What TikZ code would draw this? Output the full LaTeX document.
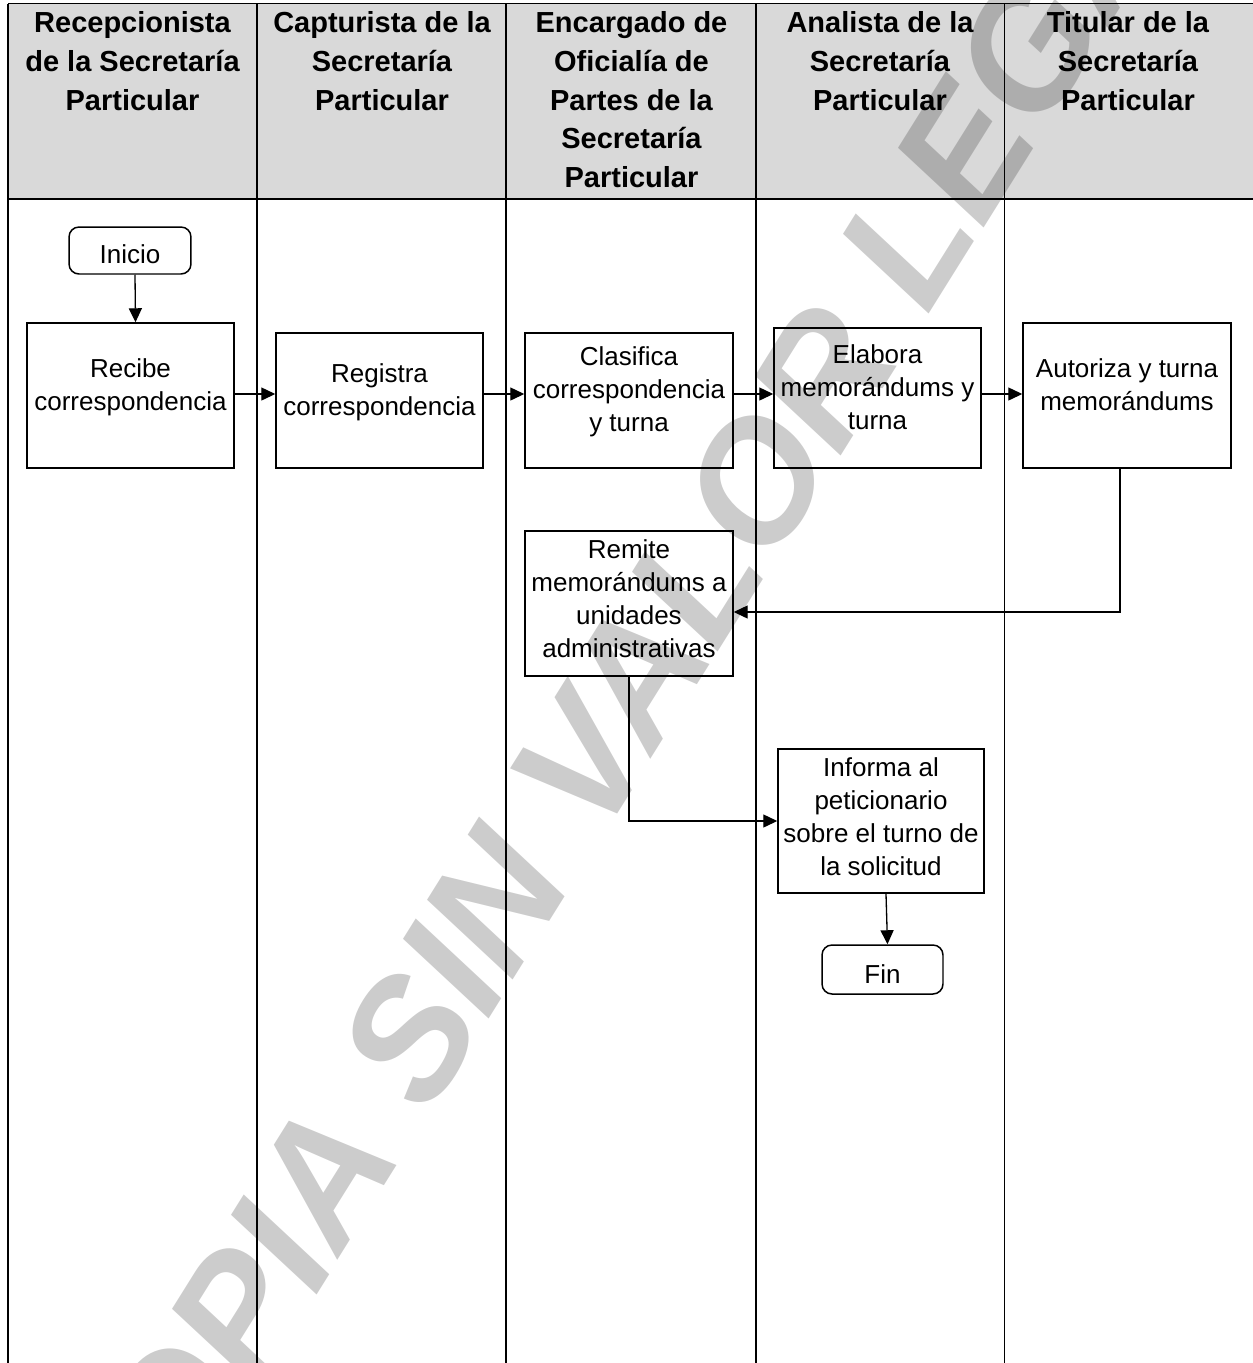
\documentclass[tikz,border=0pt]{standalone}
\usepackage{fontspec}
\setmainfont{Liberation Sans}
\usetikzlibrary{arrows.meta,calc}
\tikzset{
  lane/.style={line width=1.1pt, draw=black},
  hdr/.style={anchor=north, align=center, inner sep=0pt, font=\fontsize{16.5}{22.1}\selectfont\bfseries},
  proc/.style={draw=black, fill=white, line width=0.85pt, rectangle, inner sep=0pt},
  term/.style={draw=black, fill=white, line width=0.85pt, rectangle, rounded corners=0.2cm, inner sep=0pt, font=\fontsize{14.8}{18.8}\selectfont},
  btxt/.style={align=center, inner sep=0pt, font=\fontsize{14.8}{18.8}\selectfont},
  arr/.style={line width=0.75pt, -{Triangle[length=0.28cm,width=0.26cm]}},
  wmark/.style={rotate=58, text=black, text opacity=0.2, inner sep=0pt, font=\fontsize{95}{100}\selectfont\bfseries\itshape},
}
\begin{document}
\begin{tikzpicture}[x=0.02cm,y=-0.02cm]
\useasboundingbox (0,0) rectangle (1252,1363);
% header band and lanes
\fill[gray!30] (8,3.5) rectangle (1256,199);
\draw[lane] (8,3.5) -- (1258,3.5);
\draw[lane] (8,199) -- (1258,199);
\foreach \x in {8,257,506,756,1004.5} \draw[lane] (\x,3.5) -- (\x,1368);
% headers
\node[hdr] (h1) at (132.5,11) {Recepcionista\\de la Secretaría\\Particular};
\node[hdr] (h2) at (382,11) {Capturista de la\\Secretaría\\Particular};
\node[hdr] (h3) at (631.5,11) {Encargado de\\Oficialía de\\Partes de la\\Secretaría\\Particular};
\node[hdr] (h4) at (880,11) {Analista de la\\Secretaría\\Particular};
\node[hdr] (h5) at (1128,11) {Titular de la\\Secretaría\\Particular};
% flow nodes
\node[term, minimum width=2.44cm, minimum height=0.94cm, text height=0.5cm, text depth=0cm] (ini) at (130,250.5) {Inicio};
\node[proc, minimum width=4.14cm, minimum height=2.9cm,
  label={[btxt, name=rec-t, yshift=0.17cm]center:Recibe\\correspondencia}] (rec) at (130.5,395.5) {};
\node[proc, minimum width=4.14cm, minimum height=2.7cm,
  label={[btxt, name=reg-t, yshift=0.17cm]center:Registra\\correspondencia}] (reg) at (379.5,400.5) {};
\node[proc, minimum width=4.16cm, minimum height=2.7cm,
  label={[btxt, name=cla-t, yshift=0.17cm]center:Clasifica\\correspondencia\\y turna}] (cla) at (629,400.5) {};
\node[proc, minimum width=4.14cm, minimum height=2.8cm,
  label={[btxt, name=ela-t, yshift=0.21cm]center:Elabora\\memorándums y\\turna}] (ela) at (877.5,398) {};
\node[proc, minimum width=4.16cm, minimum height=2.9cm,
  label={[btxt, name=aut-t, yshift=0.21cm]center:Autoriza y turna\\memorándums}] (aut) at (1127,395.5) {};
\node[proc, minimum width=4.16cm, minimum height=2.9cm,
  label={[btxt, name=rem-t, yshift=0.09cm]center:Remite\\memorándums a\\unidades\\administrativas}] (rem) at (629,603.5) {};
\node[proc, minimum width=4.12cm, minimum height=2.88cm,
  label={[btxt, name=inf-t, yshift=0.09cm]center:Informa al\\peticionario\\sobre el turno de\\la solicitud}] (inf) at (881,821) {};
\node[term, minimum width=2.42cm, minimum height=0.98cm, text height=0.54cm, text depth=0cm] (fin) at (882.5,969.5) {Fin};
% connectors
\coordinate (hy) at (0,394);
\coordinate (c1) at (1120,612);
\draw[arr] ($(ini.south)+(5,0)$) -- ($(rec.north)+(5,0)$);
\draw[arr] (rec.east |- hy) -- (reg.west |- hy);
\draw[arr] (reg.east |- hy) -- (cla.west |- hy);
\draw[arr] (cla.east |- hy) -- (ela.west |- hy);
\draw[arr] (ela.east |- hy) -- (aut.west |- hy);
\draw[arr] (aut.south -| c1) -- (c1) -- (rem.east |- c1);
\draw[arr] (rem.south) |- (inf.west);
\draw[arr] ($(inf.south)+(5,0)$) -- ($(fin.north)+(5,0)$);
% watermark
\node[wmark] (wm) at (627,690) {COPIA SIN VALOR LEGAL};
\end{tikzpicture}
\end{document}
